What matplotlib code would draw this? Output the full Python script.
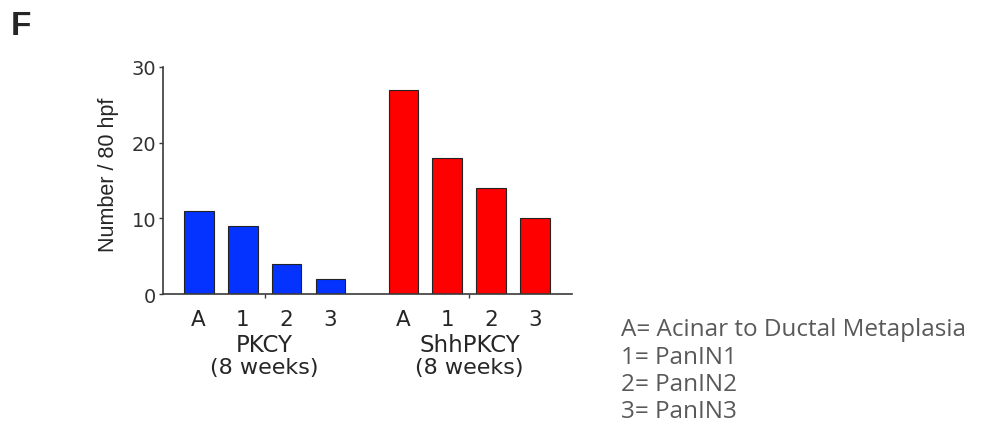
import matplotlib
matplotlib.use("Agg")
import matplotlib.pyplot as plt
import matplotlib.transforms as mtransforms
import numpy as np

plt.rcParams["font.family"] = ["DejaVu Sans"]

# lesion counts per genotype
stages = ["A", "1", "2", "3"]
pkcy_counts = [11, 9, 4, 2]
shh_counts = [27, 18, 14, 10]
group_names = ["PKCY", "ShhPKCY"]
group_ages = ["(8 weeks)", "(8 weeks)"]
key_lines = ["A= Acinar to Ductal Metaplasia", "1= PanIN1", "2= PanIN2", "3= PanIN3"]

BLUE = "#0433FF"
RED = "#FF0000"
AXIS = "#3a3a3a"
INK = "#262626"

group_gap = 1.66
x_pkcy = np.arange(len(stages))
x_shh = x_pkcy + len(stages) - 1 + group_gap

fig = plt.figure(figsize=(9.91, 4.27), dpi=100)
ax = fig.add_axes([0.1645, 0.309, 0.4125, 0.532])

ax.bar(x_pkcy, pkcy_counts, width=0.68, color=BLUE, edgecolor="#222222", linewidth=0.8)
ax.bar(x_shh, shh_counts, width=0.68, color=RED, edgecolor="#222222", linewidth=0.8)

ax.set_xlim(-0.81, x_shh[-1] + 0.83)
ax.set_ylim(0, 30)
ax.set_yticks([0, 10, 20, 30])
ax.tick_params(axis="y", direction="out", length=3, width=1, color=AXIS,
               labelsize=14, labelcolor="#333333", pad=2)

# small ticks marking the centre of each group
ax.set_xticks([x_pkcy.mean(), x_shh.mean()])
ax.set_xticklabels([])
ax.tick_params(axis="x", direction="out", length=3, width=1, color=AXIS)

for side in ("top", "right"):
    ax.spines[side].set_visible(False)
for side in ("left", "bottom"):
    ax.spines[side].set_color(AXIS)
    ax.spines[side].set_linewidth(1.2)

ax.set_ylabel("Number / 80 hpf", fontsize=15.5, family=["Liberation Sans"], color=INK)
ax.yaxis.set_label_coords(-0.108, 0.53)

trans = mtransforms.blended_transform_factory(ax.transData, ax.transAxes)
for xs in (x_pkcy, x_shh):
    for x, s in zip(xs, stages):
        ax.text(x, -0.11, s, transform=trans, ha="center", va="center",
                fontsize=15.5, color=INK)
for xs, name, age in zip((x_pkcy, x_shh), group_names, group_ages):
    ax.text(xs.mean(), -0.22, name, transform=trans, ha="center", va="center",
            fontsize=16.5, color=INK)
    ax.text(xs.mean(), -0.32, age, transform=trans, ha="center", va="center",
            fontsize=16, color=INK)

fig.text(0.011, 0.937, "F", fontsize=24, fontweight="bold", color=INK,
         family=["Liberation Sans"], ha="left", va="center")

for i, line in enumerate(key_lines):
    fig.text(0.627, 1 - (330 + i * 27.5) / 427, line, fontsize=17.5,
             family=["Open Sans", "DejaVu Sans"], color="#595959", ha="left", va="center")

fig.savefig("out.png", dpi=100)
